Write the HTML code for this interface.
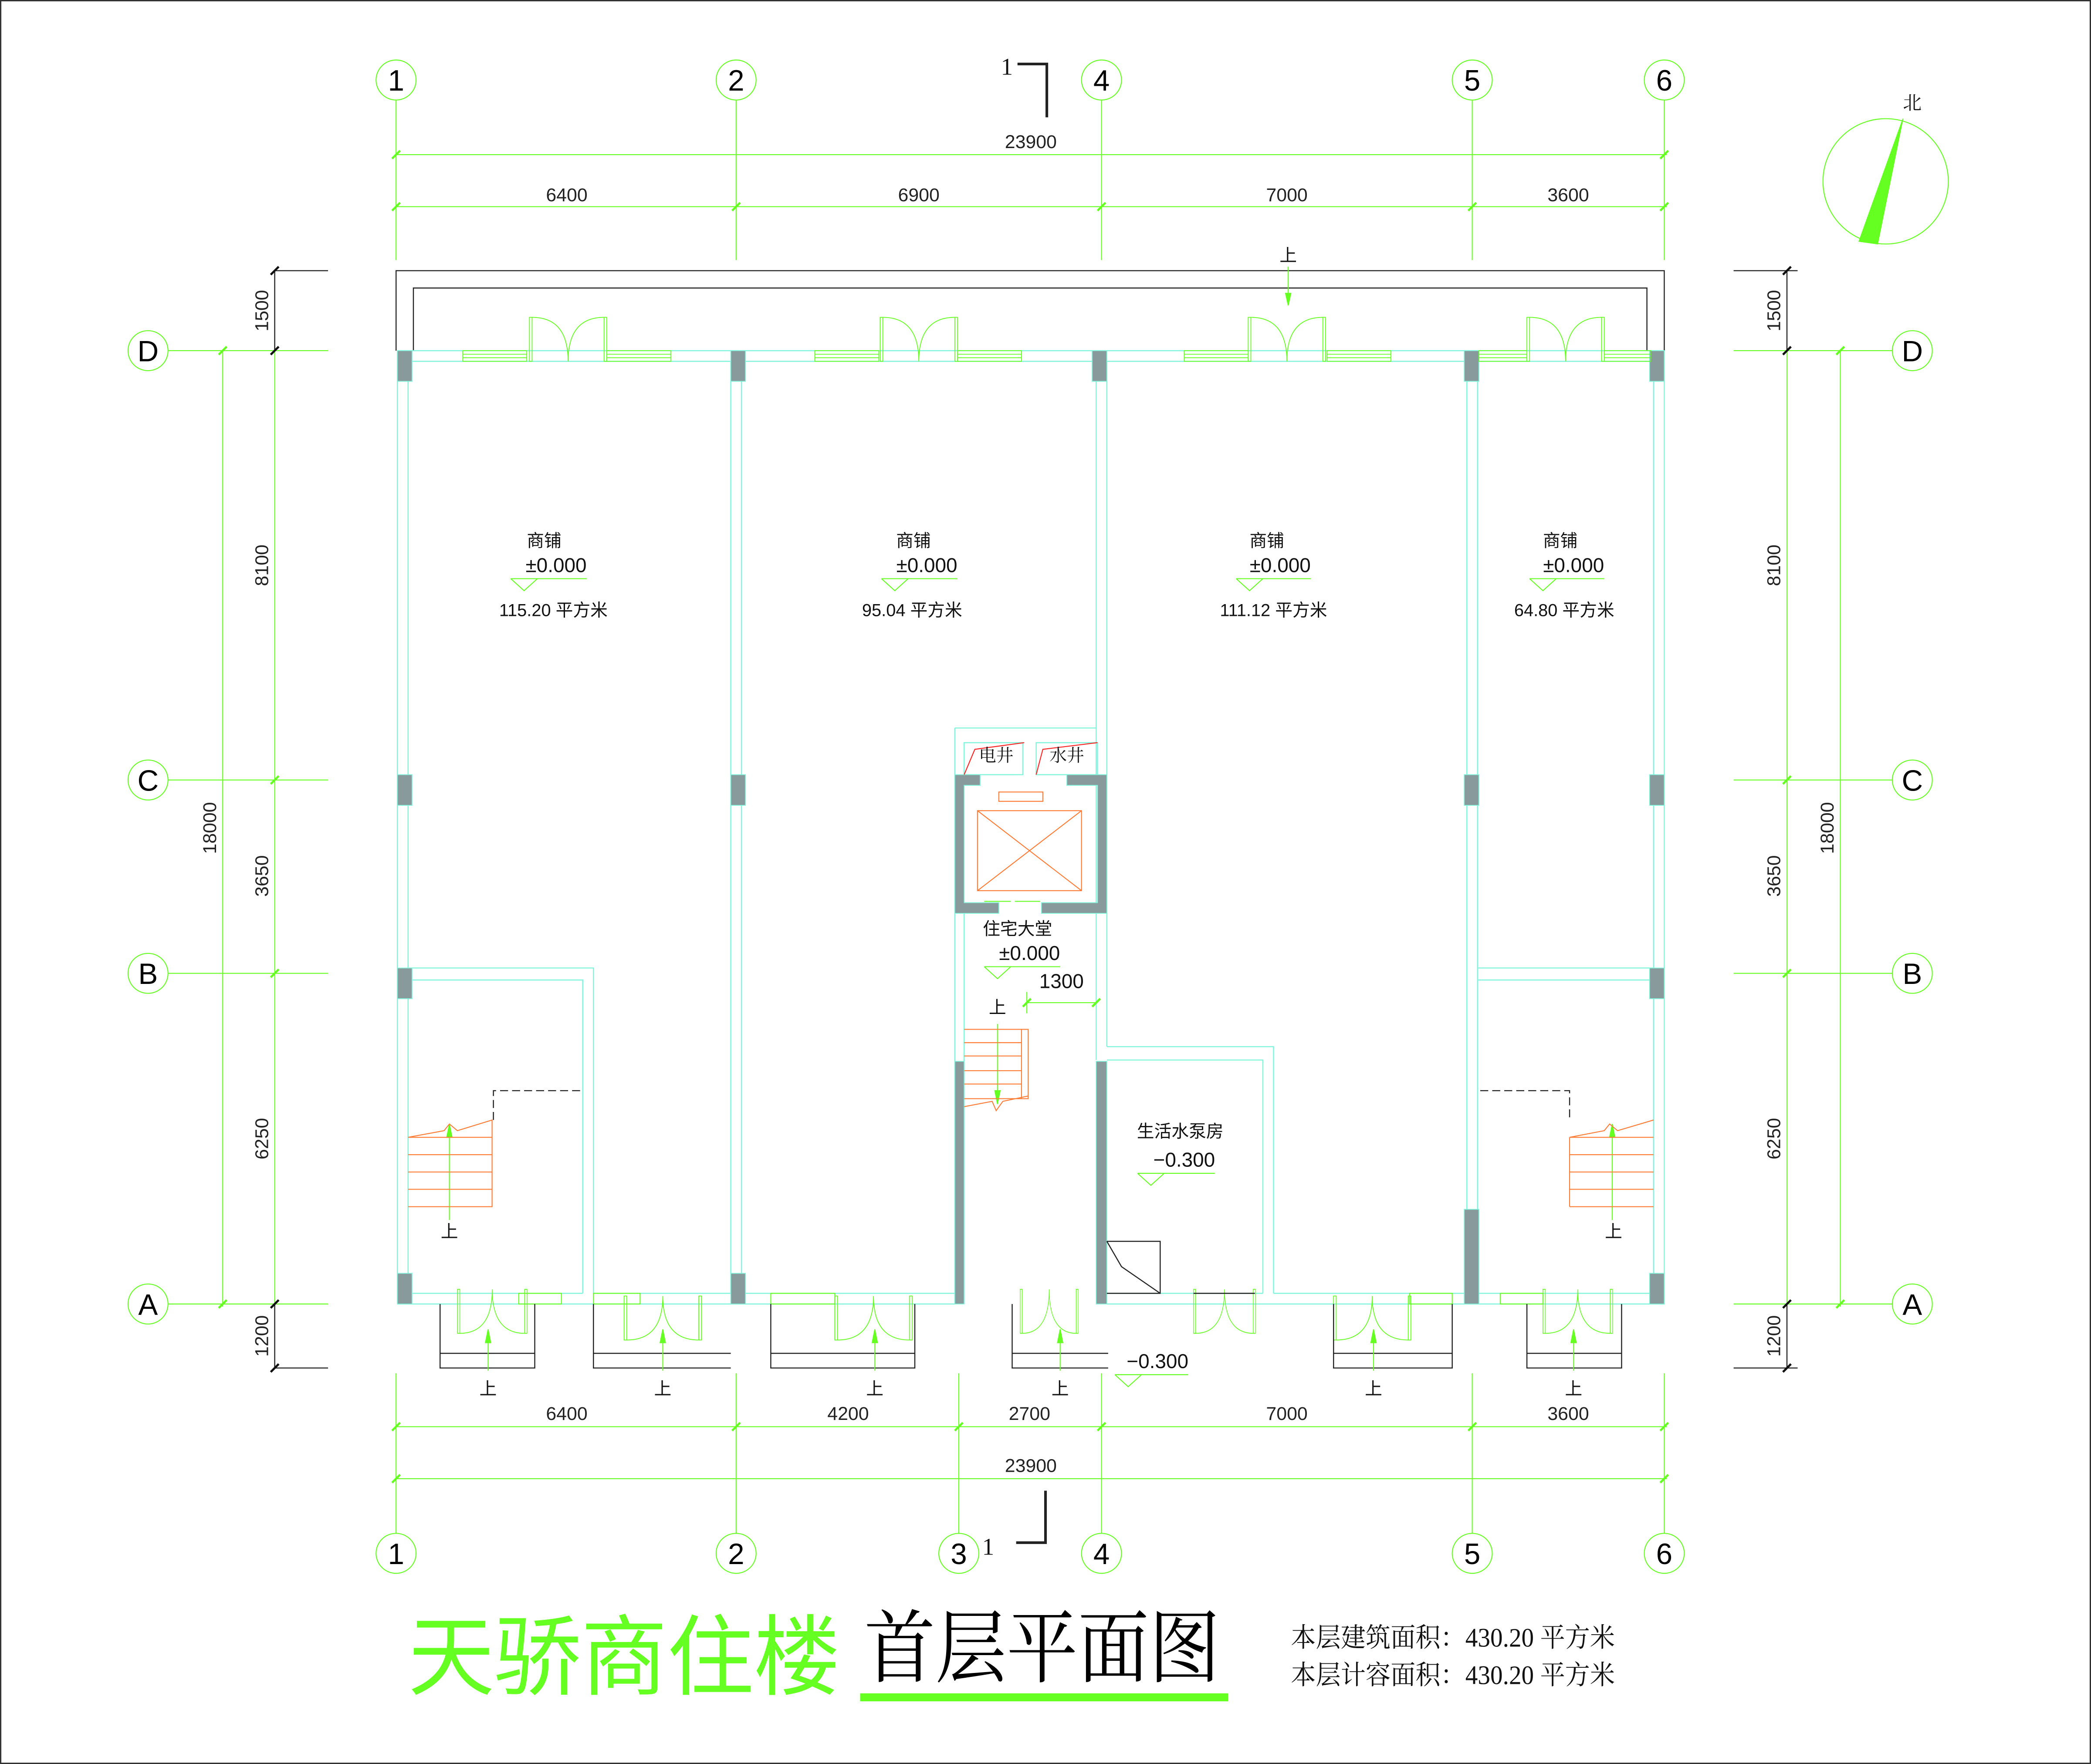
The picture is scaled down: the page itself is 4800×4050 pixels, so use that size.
<!DOCTYPE html>
<html><head><meta charset="utf-8"><style>
html,body{margin:0;padding:0;background:#fff}
svg{display:block}
text{font-family:"Liberation Sans","Noto Sans CJK SC",sans-serif}
.c{fill:none;stroke:#80f5dc;stroke-width:0.8}
.g{fill:none;stroke:#66ff22;stroke-width:0.7}
.k{fill:none;stroke:#222;stroke-width:0.8}
.o{fill:none;stroke:#ff7a33;stroke-width:0.7}
.col{fill:#899a9c;stroke:#80f5dc;stroke-width:0.6}
.ax{font-size:22px;fill:#000;text-anchor:middle}
.dm{font-size:14px;fill:#222;text-anchor:middle;font-family:"Liberation Sans Narrow","Liberation Sans",sans-serif}
.rm{font-size:13px;fill:#111;text-anchor:middle;font-family:"Liberation Serif","Noto Serif CJK SC",serif}
</style></head><body>
<svg width="4800" height="4050" viewBox="0 0 1568 1323" xmlns="http://www.w3.org/2000/svg">
<defs>
<g id="dd"><rect x="0" y="0" width="2" height="33" fill="none" stroke="#66ff22" stroke-width="0.6"/><rect x="56" y="0" width="2" height="33" fill="none" stroke="#66ff22" stroke-width="0.6"/><path d="M2,0 Q29,0 29,33 M56,0 Q29,0 29,33" fill="none" stroke="#66ff22" stroke-width="0.6"/></g>
<g id="win"><rect x="0" y="0" width="48" height="8" fill="none" stroke="#66ff22" stroke-width="0.6"/><path d="M0,2.7H48M0,5.3H48" stroke="#66ff22" stroke-width="0.6"/></g>
<g id="tk"><path d="M-3,3 L3,-3" stroke="#66ff22" stroke-width="1.6"/></g>
<g id="tkb"><path d="M-3,3 L3,-3" stroke="#111" stroke-width="1.6"/></g>
</defs>
<rect x="0.5" y="0.5" width="1567" height="1322" fill="none" stroke="#333" stroke-width="1"/>

<g class="g">
<circle cx="297" cy="60" r="15"/><circle cx="552" cy="60" r="15"/><circle cx="826" cy="60" r="15"/><circle cx="1104" cy="60" r="15"/><circle cx="1248" cy="60" r="15"/>
<path d="M297,75V195M552,75V195M826,75V195M1104,75V195M1248,75V195"/>
<path d="M297,116H1250M297,155H1250"/>
<circle cx="297" cy="1165" r="15"/><circle cx="552" cy="1165" r="15"/><circle cx="719" cy="1165" r="15"/><circle cx="826" cy="1165" r="15"/><circle cx="1104" cy="1165" r="15"/><circle cx="1248" cy="1165" r="15"/>
<path d="M297,1030V1150M552,1030V1150M719,1030V1150M826,1030V1150M1104,1030V1150M1248,1030V1150"/>
<path d="M297,1070H1250M297,1109H1250"/>
<circle cx="111" cy="263" r="15"/><circle cx="111" cy="585" r="15"/><circle cx="111" cy="730" r="15"/><circle cx="111" cy="978" r="15"/>
<path d="M126,263H246M126,585H246M126,730H246M126,978H246"/>
<path d="M167,263V980M206,263V980"/>
<circle cx="1434" cy="263" r="15"/><circle cx="1434" cy="585" r="15"/><circle cx="1434" cy="730" r="15"/><circle cx="1434" cy="978" r="15"/>
<path d="M1300,263H1419M1300,585H1419M1300,730H1419M1300,978H1419"/>
<path d="M1380,263V980M1340,263V980"/>
</g>
<g class="k"><path d="M206,203H246M206,1026H246M206,203V263M206,978V1026M1300,203H1348M1300,1026H1348M1340,203V263M1340,978V1026"/></g>
<g>
<use href="#tk" x="297" y="116"/><use href="#tk" x="1248" y="116"/>
<use href="#tk" x="297" y="155"/><use href="#tk" x="552" y="155"/><use href="#tk" x="826" y="155"/><use href="#tk" x="1104" y="155"/><use href="#tk" x="1248" y="155"/>
<use href="#tk" x="297" y="1070"/><use href="#tk" x="552" y="1070"/><use href="#tk" x="719" y="1070"/><use href="#tk" x="826" y="1070"/><use href="#tk" x="1104" y="1070"/><use href="#tk" x="1248" y="1070"/>
<use href="#tk" x="297" y="1109"/><use href="#tk" x="1248" y="1109"/>
<use href="#tk" x="167" y="263"/><use href="#tk" x="167" y="978"/><use href="#tk" x="206" y="585"/><use href="#tk" x="206" y="730"/>
<use href="#tkb" x="206" y="203"/><use href="#tkb" x="206" y="263"/><use href="#tkb" x="206" y="978"/><use href="#tkb" x="206" y="1026"/>
<use href="#tk" x="1380" y="263"/><use href="#tk" x="1380" y="978"/><use href="#tk" x="1340" y="585"/><use href="#tk" x="1340" y="730"/>
<use href="#tkb" x="1340" y="203"/><use href="#tkb" x="1340" y="263"/><use href="#tkb" x="1340" y="978"/><use href="#tkb" x="1340" y="1026"/>
</g>
<g class="ax">
<text x="297" y="68">1</text><text x="552" y="68">2</text><text x="826" y="68">4</text><text x="1104" y="68">5</text><text x="1248" y="68">6</text>
<text x="297" y="1173">1</text><text x="552" y="1173">2</text><text x="719" y="1173">3</text><text x="826" y="1173">4</text><text x="1104" y="1173">5</text><text x="1248" y="1173">6</text>
<text x="111" y="271">D</text><text x="111" y="593">C</text><text x="111" y="738">B</text><text x="111" y="986">A</text>
<text x="1434" y="271">D</text><text x="1434" y="593">C</text><text x="1434" y="738">B</text><text x="1434" y="986">A</text>
</g>
<g class="dm">
<text x="773" y="111">23900</text>
<text x="425" y="151">6400</text><text x="689" y="151">6900</text><text x="965" y="151">7000</text><text x="1176" y="151">3600</text>
<text x="425" y="1065">6400</text><text x="636" y="1065">4200</text><text x="772" y="1065">2700</text><text x="965" y="1065">7000</text><text x="1176" y="1065">3600</text>
<text x="773" y="1104">23900</text>
<text transform="translate(201,233) rotate(-90)">1500</text>
<text transform="translate(201,424) rotate(-90)">8100</text>
<text transform="translate(201,657) rotate(-90)">3650</text>
<text transform="translate(201,854) rotate(-90)">6250</text>
<text transform="translate(201,1002) rotate(-90)">1200</text>
<text transform="translate(162,621) rotate(-90)">18000</text>
<text transform="translate(1335,233) rotate(-90)">1500</text>
<text transform="translate(1335,424) rotate(-90)">8100</text>
<text transform="translate(1335,657) rotate(-90)">3650</text>
<text transform="translate(1335,854) rotate(-90)">6250</text>
<text transform="translate(1335,1002) rotate(-90)">1200</text>
<text transform="translate(1375,621) rotate(-90)">18000</text>
</g>
<g class="k" style="stroke-width:2"><path d="M763,48H785V88"/><path d="M762,1157H784V1118"/></g>
<text x="755" y="56" class="rm" style="font-size:18px">1</text>
<text x="741" y="1166" class="rm" style="font-size:18px">1</text>
<circle cx="1414" cy="136" r="47" class="g"/>
<path d="M1427,89 L1394,181 L1408,183Z" fill="#66ff22" stroke="#66ff22" stroke-width="0.6"/>
<text x="1434" y="82" class="rm" style="font-size:14px">北</text>

<g class="k"><path d="M297,263V203H1248V263M310,263V216H1235V263"/></g>
<g class="c">
<path d="M298,263H1248M306,271H548M556,271H822M830,271H1100M1108,271H1240"/>
<path d="M298,263V978M306,271V970M1248,263V978M1240,271V970"/>
<path d="M298,978H716M306,970H437M445,970H548M556,970H716"/>
<path d="M830,978H1248M830,970H947M955,970H1100M1108,970H1240"/>
<path d="M548,271V970M556,271V970M1100,271V970M1108,271V970"/>
<path d="M822,271V795M830,271V785"/>
<path d="M306,726H445V970M306,735H437V970"/>
<path d="M1108,726H1240M1108,735H1240"/>
<path d="M830,785H955V970M830,795H947V970"/>
<path d="M716,546H822M716,546V795M723,685V795M716,795V978M723,795V978"/>
<path d="M723,557H767V581H723ZM777,557H823V581H777Z"/>
</g>
<g class="k" style="stroke-dasharray:6,3"><path d="M370,840V818H437M1110,818H1177V840"/></g>
<g class="col">
<rect x="298" y="263" width="11" height="23"/><rect x="548" y="263" width="11" height="23"/><rect x="819" y="263" width="11" height="23"/><rect x="1098" y="263" width="11" height="23"/><rect x="1237" y="263" width="11" height="23"/>
<rect x="298" y="581" width="11" height="23"/><rect x="548" y="581" width="11" height="23"/><rect x="1098" y="581" width="11" height="23"/><rect x="1237" y="581" width="11" height="23"/>
<rect x="298" y="726" width="11" height="23"/><rect x="1237" y="726" width="11" height="23"/>
<rect x="298" y="955" width="11" height="23"/><rect x="548" y="955" width="11" height="23"/><rect x="1098" y="907" width="11" height="71"/><rect x="1237" y="955" width="11" height="23"/>
<rect x="716" y="796" width="7" height="182"/><rect x="822" y="796" width="8" height="182"/>
<path d="M716,581H735V589H723V677H749V685H716Z"/>
<path d="M800,581H830V685H781V677H823V589H800Z"/>
</g>
<g class="o"><rect x="749" y="594" width="33" height="7"/><rect x="733" y="608" width="78" height="60"/><path d="M733,608L811,668M811,608L733,668"/></g>
<g class="g"><path d="M738,676H758M761,676H780"/></g>
<g stroke="#ff2020" stroke-width="0.7" fill="none"><path d="M723,581L731,562L768,557M777,581L782,562L823,557"/></g>
<text x="747" y="571" class="rm">电井</text><text x="800" y="571" class="rm">水井</text>
<use href="#win" x="347" y="263"/><use href="#dd" x="397" y="238"/><use href="#win" x="455" y="263"/>
<use href="#win" x="611" y="263"/><use href="#dd" x="660" y="238"/><use href="#win" x="718" y="263"/>
<use href="#win" x="888" y="263"/><use href="#dd" x="936" y="238"/><use href="#win" x="995" y="263"/>
<use href="#win" x="1109" y="263" transform="translate(1109,0) scale(0.75,1) translate(-1109,0)"/><use href="#dd" x="1145" y="238"/><use href="#win" x="1203" y="263" transform="translate(1203,0) scale(0.73,1) translate(-1203,0)"/>
<g transform="translate(343,1000) scale(0.9,-1)"><use href="#dd"/></g>
<rect x="389" y="970" width="32" height="8" class="g"/><rect x="445" y="970" width="35" height="8" class="g"/>
<g transform="translate(468,1005) scale(1,-1)"><use href="#dd"/></g>
<rect x="578" y="970" width="48" height="8" class="g"/>
<g transform="translate(626,1005) scale(1,-1)"><use href="#dd"/></g>
<g transform="translate(765,1000) scale(0.75,-1)"><use href="#dd"/></g>
<g transform="translate(895,1000) scale(0.8,-1)"><use href="#dd"/></g>
<path d="M895,970H941" class="k"/>
<g transform="translate(1000,1005) scale(1,-1)"><use href="#dd"/></g>
<rect x="1057" y="970" width="32" height="8" class="g"/><rect x="1125" y="970" width="32" height="8" class="g"/>
<g transform="translate(1157,1000) scale(0.9,-1)"><use href="#dd"/></g>
<g class="k"><path d="M330,978V1026H401V978M330,1015H401M445,978V1026H548M445,1015H548M578,978V1026H686V978M578,1015H686M759,978V1026H831M759,1015H831M1000,978V1026H1089V978M1000,1015H1089M1145,978V1026H1216V978M1145,1015H1216"/>
<path d="M830,931H870V970H830 M830,931L841,950L870,970"/></g>
<g stroke="#66ff22" stroke-width="0.7" fill="#66ff22">
<path d="M366,1028V997"/><path d="M366,997l-2,10h4z"/>
<path d="M497,1028V997"/><path d="M497,997l-2,10h4z"/>
<path d="M656,1028V997"/><path d="M656,997l-2,10h4z"/>
<path d="M795,1028V997"/><path d="M795,997l-2,10h4z"/>
<path d="M1030,1028V997"/><path d="M1030,997l-2,10h4z"/>
<path d="M1180,1028V997"/><path d="M1180,997l-2,10h4z"/>
<path d="M966,200V229"/><path d="M966,229l-2,-9h4z"/>
<path d="M337,915V843"/><path d="M337,843l-2,10h4z"/>
<path d="M1209,915V843"/><path d="M1209,843l-2,10h4z"/>
<path d="M748,768V828"/><path d="M748,828l-2,-10h4z"/>
</g>
<g class="rm" style="font-size:13px">
<text x="366" y="1046">上</text><text x="497" y="1046">上</text><text x="656" y="1046">上</text><text x="795" y="1046">上</text><text x="1030" y="1046">上</text><text x="1180" y="1046">上</text>
<text x="966" y="196">上</text><text x="337" y="928">上</text><text x="1210" y="928">上</text><text x="748" y="760">上</text>
</g>
<g class="o">
<path d="M306,853H369V905H306M306,866H369M306,879H369M306,892H369M306,853L333,848L337,843L343,848L369,840V905"/>
<path d="M1177,853H1240M1177,866H1240M1177,879H1240M1177,892H1240M1177,905H1240M1177,853V905M1177,853L1203,848L1207,843L1213,848L1240,840"/>
<path d="M723,772H771V824H723M723,782H766M723,792H766M723,803H766M723,813H766M766,772V824M723,830L744,826L747,833L752,826L771,822"/>
</g>
<g class="rm">
<text x="408" y="410">商铺</text><text x="685" y="410">商铺</text><text x="950" y="410">商铺</text><text x="1170" y="410">商铺</text>
<text x="417" y="429" style="font-size:15px;font-family:'Liberation Sans',sans-serif">±0.000</text>
<text x="695" y="429" style="font-size:15px;font-family:'Liberation Sans',sans-serif">±0.000</text>
<text x="960" y="429" style="font-size:15px;font-family:'Liberation Sans',sans-serif">±0.000</text>
<text x="1180" y="429" style="font-size:15px;font-family:'Liberation Sans',sans-serif">±0.000</text>
<text x="415" y="462">115.20 平方米</text><text x="684" y="462">95.04 平方米</text><text x="955" y="462">111.12 平方米</text><text x="1173" y="462">64.80 平方米</text>
<text x="763" y="701">住宅大堂</text>
<text x="772" y="720" style="font-size:15px;font-family:'Liberation Sans',sans-serif">±0.000</text>
<text x="796" y="741" style="font-size:15px;font-family:'Liberation Sans',sans-serif">1300</text>
<text x="885" y="853">生活水泵房</text>
<text x="888" y="875" style="font-size:15px;font-family:'Liberation Sans',sans-serif">−0.300</text>
<text x="868" y="1026" style="font-size:15px;font-family:'Liberation Sans',sans-serif">−0.300</text>
</g>
<g class="g">
<path d="M383,434H440M383,434l10,9l10,-9"/><path d="M661,434H718M661,434l10,9l10,-9"/><path d="M927,434H983M927,434l10,9l10,-9"/><path d="M1147,434H1203M1147,434l10,9l10,-9"/>
<path d="M738,725H795M738,725l10,9l10,-9"/>
<path d="M853,880H911M853,880l10,9l10,-9"/>
<path d="M836,1031H891M836,1031l10,9l10,-9"/>
<path d="M770,744V760M770,752H823"/>
</g>
<use href="#tk" x="770" y="752"/><use href="#tk" x="822" y="752"/>
<text x="306" y="1266" textLength="324" lengthAdjust="spacingAndGlyphs" style="font-size:66px;fill:#66ff22;font-family:'Noto Sans CJK SC',sans-serif">天骄商住楼</text>
<text x="648" y="1257" textLength="267" lengthAdjust="spacingAndGlyphs" style="font-size:60px;fill:#000;font-family:'Noto Serif CJK SC',serif">首层平面图</text>
<rect x="645" y="1270" width="276" height="6" fill="#66ff22"/>
<text x="968" y="1235" textLength="243" lengthAdjust="spacingAndGlyphs" style="font-size:20px;fill:#111;font-family:'Liberation Serif','Noto Serif CJK SC',serif">本层建筑面积：430.20 平方米</text>
<text x="968" y="1263" textLength="243" lengthAdjust="spacingAndGlyphs" style="font-size:20px;fill:#111;font-family:'Liberation Serif','Noto Serif CJK SC',serif">本层计容面积：430.20 平方米</text>
</svg>
</body></html>
